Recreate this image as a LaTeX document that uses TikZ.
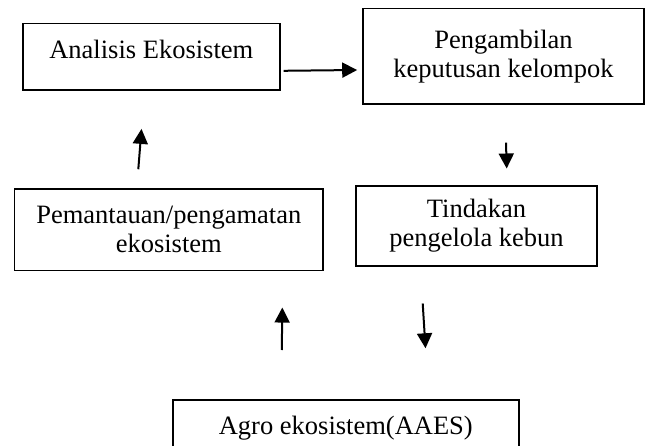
\documentclass[tikz,border=0pt]{standalone}
\usepackage{fontspec}
\setmainfont{Liberation Serif}
\usetikzlibrary{positioning,calc,arrows.meta}
\tikzset{
  eco box/.style={
    draw, rectangle, line width=1.6bp,
    inner sep=0pt,
    font=\fontsize{26.6pt}{29.1pt}\selectfont,
  },
  flow arrow/.style={
    -{Triangle[length=15bp, width=15bp]},
    line width=2bp,
    shorten >=0pt, shorten <=0pt,
  },
}

\begin{document}
\begin{tikzpicture}[x=1bp, y=-1bp]

% Page frame (pixel coordinates, y downwards)
\clip (0,0) rectangle (645,446);

% Boxes of the cycle
\node[eco box, anchor=north west, minimum width=257bp,
  text height=35.3bp, text depth=31.3bp] (analisis) at (22,22.7) {Analisis Ekosistem};
\node[eco box, align=center, minimum width=281bp, minimum height=95.7bp]
  (keputusan) at (503.5,56.2) {Pengambilan\\keputusan kelompok};
\node[eco box, align=center, minimum width=308.3bp, minimum height=81.5bp]
  (pemantauan) at (168.8,229.8) {Pemantauan/pengamatan\\ekosistem};
\node[eco box, align=center, minimum width=241bp, minimum height=80bp]
  (tindakan) at (476.5,226) {Tindakan\\pengelola kebun};
\node[eco box, anchor=north west, minimum width=346bp,
  text height=34.7bp, text depth=30bp] (agro) at (172,399.3) {Agro ekosistem(AAES)};

% Arrows (they stop short of the boxes)
\draw[flow arrow] ($(analisis.east)+(3,14)$) -- ($(keputusan.west)+(-5,13.8)$);
\draw[flow arrow] ($(keputusan.south)+(2.5,37.7)$) -- ($(tindakan.north)+(30.2,-16.7)$);
\draw[flow arrow] ($(tindakan.south)+(-53.8,36.7)$) -- ($(agro.north)+(79.7,-51)$);
\draw[flow arrow] ($(agro.north)+(-64,-49.3)$) -- ($(pemantauan.south)+(113.5,36.2)$);
\draw[flow arrow] ($(pemantauan.north)+(-30.5,-19)$) -- ($(analisis.south)+(-9.8,38)$);

\end{tikzpicture}
\end{document}
